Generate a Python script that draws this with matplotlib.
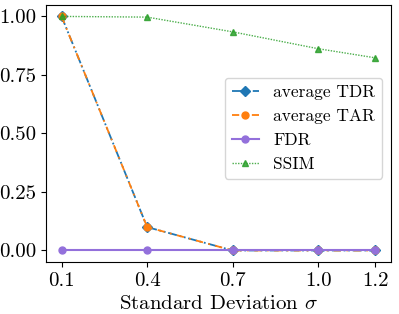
import matplotlib
matplotlib.use("Agg")
from matplotlib import pyplot as plt

plt.rcParams['font.family'] = 'serif'
plt.rcParams['font.serif'] = ['cmr10']
plt.rcParams['mathtext.fontset'] = 'cm'
plt.rcParams['axes.unicode_minus'] = False

sigma = [0.1, 0.4, 0.7, 1.0, 1.2]
tdr = [1.0, 0.1, 0.0, 0.0, 0.0]
tar = [1.0, 0.1, 0.0, 0.0, 0.0]
fdr = [0.0, 0.0, 0.0, 0.0, 0.0]
ssim = [1.0, 0.997, 0.934, 0.862, 0.823]
xticklabels = ["0.1", "0.4", "0.7", "1.0", "1.2"]
yticks = [0.0, 0.25, 0.5, 0.75, 1.0]
yticklabels = ["0.00", "0.25", "0.50", "0.75", "1.00"]

fig, ax = plt.subplots(figsize=(3.99, 3.14), dpi=100)
ax.plot(sigma, tdr, color='#1f77b4', linestyle=(0, (5, 1.5, 1, 1.5, 1, 1.5)), lw=1.3,
        marker='D', markersize=5, label='average TDR')
ax.plot(sigma, tar, color='#ff7f0e', linestyle=(0, (4, 3, 1, 3)), lw=1.3,
        marker='o', markersize=5, label='average TAR')
ax.plot(sigma, fdr, color='mediumpurple', linestyle='-', lw=1.5,
        marker='o', markersize=5, label='FDR')
ax.plot(sigma, ssim, color='#2ca02c', linestyle=(0, (1, 1)), lw=1.0, alpha=0.85,
        marker='^', markersize=5, label='SSIM')

ax.set_xticks(sigma)
ax.set_xticklabels(xticklabels)
ax.set_yticks(yticks)
ax.set_yticklabels(yticklabels)
ax.tick_params(labelsize=15)
ax.set_xlabel(r'Standard Deviation $\sigma$', fontsize=15)
ax.legend(loc='center right', fontsize=12.5, handlelength=1.6, bbox_to_anchor=(1.0, 0.52))

plt.subplots_adjust(left=0.115, right=0.98, top=0.985, bottom=0.165)
plt.savefig("out.png", dpi=100)
